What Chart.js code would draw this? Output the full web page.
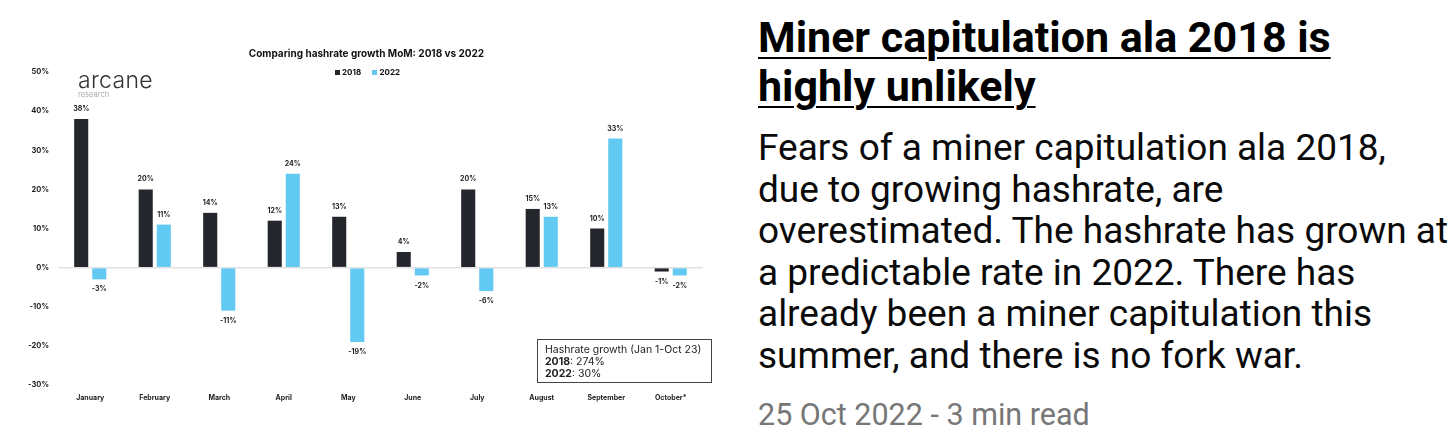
<!DOCTYPE html>
<html>
<head>
<meta charset="utf-8">
<script src="https://cdn.jsdelivr.net/npm/chart.js@4.4.0/dist/chart.umd.min.js"></script>
<style>
  html, body { margin: 0; padding: 0; background: #fff; }
  body { width: 1456px; height: 440px; position: relative; overflow: hidden; font-family: Inter, sans-serif; }
  #chartWrap { position: absolute; left: 0; top: 0; width: 720px; height: 440px; }
  .title { position: absolute; left: 0; width: 733px; top: 47px; text-align: center; font: bold 10px Inter, sans-serif; color: #111; }
  .legend { position: absolute; left: 335px; top: 67px; font: bold 8px Inter, sans-serif; color: #111; white-space: nowrap; }
  .legend span.sw { display: inline-block; width: 5px; height: 5px; margin-right: 2px; vertical-align: 0px; }
  .logo { position: absolute; left: 78px; top: 66px; font: 300 23px Inter, sans-serif; color: #333; letter-spacing: 0.3px; }
  .logo small { display: block; font: 7.5px Inter, sans-serif; color: #aaa; margin-top: -4px; letter-spacing: 0; }
  .note { position: absolute; left: 537px; top: 339px; width: 175px; height: 44px; border: 1px solid #444; box-sizing: border-box;
          font: 10.5px Inter, sans-serif; color: #222; padding: 4px 0 0 7px; line-height: 12px; white-space: nowrap; }
  .post { position: absolute; left: 758px; top: 0; font-family: Roboto, sans-serif; white-space: nowrap; }
  .post h1 { margin: 0; position: absolute; top: 13px; font: bold 43px/49px Roboto, sans-serif; color: #000; text-decoration: underline; text-decoration-thickness: 2px; text-underline-offset: 5px; }
  .post p { margin: 0; position: absolute; top: 127px; font: 37px/41.5px Roboto, sans-serif; color: #0a0a0a; }
  .post .date { position: absolute; top: 397px; font: 30.5px Roboto, sans-serif; color: #777; }
</style>
</head>
<body>
<div id="chartWrap"><canvas id="hashChart" width="720" height="440"></canvas></div>
<div class="title">Comparing hashrate growth MoM: 2018 vs 2022</div>
<div class="legend"><span class="sw" style="background:#23262b"></span>2018 &nbsp;&nbsp;&nbsp;&nbsp;&nbsp;<span class="sw" style="background:#62c9f2"></span>2022</div>
<div class="logo">arcane<small>research</small></div>
<div class="note">Hashrate growth (Jan 1-Oct 23)<br><b>2018</b>: 274%<br><b>2022</b>: 30%</div>
<div class="post">
  <h1>Miner capitulation ala 2018 is<br>highly unlikely</h1>
  <p>Fears of a miner capitulation ala 2018,<br>due to growing hashrate, are<br>overestimated. The hashrate has grown at<br>a predictable rate in 2022. There has<br>already been a miner capitulation this<br>summer, and there is no fork war.</p>
  <div class="date">25 Oct 2022 - 3 min read</div>
</div>
<script>
  const months = ['January', 'February', 'March', 'April', 'May', 'June', 'July', 'August', 'September', 'October*'];
  const growth2018 = [38, 20, 14, 12, 13, 4, 20, 15, 10, -1];
  const growth2022 = [-3, 11, -11, 24, -19, -2, -6, 13, 33, -2];
  const yMin = -30;
  const yMax = 50;

  // value labels above / below each bar
  const barLabels = {
    id: 'barLabels',
    afterDatasetsDraw(chart) {
      const ctx = chart.ctx;
      ctx.save();
      ctx.font = 'bold 7px Inter, sans-serif';
      ctx.fillStyle = '#222';
      ctx.textAlign = 'center';
      ctx.textBaseline = 'middle';
      chart.data.datasets.forEach((ds, i) => {
        chart.getDatasetMeta(i).data.forEach((bar, j) => {
          const v = ds.data[j];
          const y = v >= 0 ? bar.y - 10 : bar.y + 10;
          ctx.fillText(v + '%', bar.x, y);
        });
      });
      ctx.restore();
    }
  };

  const ctx = document.getElementById('hashChart');
  new Chart(ctx, {
    type: 'bar',
    data: {
      labels: months,
      datasets: [
        { label: '2018', data: growth2018, backgroundColor: '#23262b' },
        { label: '2022', data: growth2022, backgroundColor: '#62c9f2' }
      ]
    },
    options: {
      responsive: false,
      animation: false,
      layout: { padding: { top: 72, right: 17, left: 0, bottom: 0 } },
      categoryPercentage: 0.56,
      barPercentage: 0.78,
      plugins: {
        legend: { display: false },
        title: { display: false },
        tooltip: { enabled: false }
      },
      scales: {
        x: {
          grid: { display: false },
          border: { display: false },
          ticks: { font: { size: 7, weight: 'bold', family: 'Inter' }, color: '#222', padding: 1, maxRotation: 0 },
          afterFit: s => { s.height = 55; }
        },
        y: {
          min: yMin,
          max: yMax,
          grid: {
            drawTicks: false,
            color: c => c.tick.value === 0 ? '#e2e2e2' : 'rgba(0,0,0,0)',
            lineWidth: 1.5
          },
          border: { display: false },
          ticks: {
            stepSize: 10,
            padding: 9,
            font: { size: 7.5, weight: 'bold', family: 'Inter' },
            color: '#222',
            callback: v => v + '%'
          },
          afterFit: s => { s.width = 58; }
        }
      }
    },
    plugins: [barLabels]
  });
</script>
</body>
</html>
